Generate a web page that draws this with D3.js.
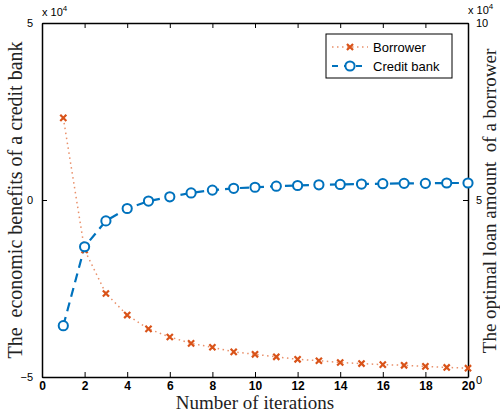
<!DOCTYPE html>
<html>
<head>
<meta charset="utf-8">
<script src="https://cdn.jsdelivr.net/npm/d3@7"></script>
<style>
  body { margin: 0; background: #fff; }
  svg { display: block; }
</style>
</head>
<body>
<div id="chart"></div>
<script>
// values
const iterations = d3.range(1, 21);
const creditBank = [-3.55, -1.32, -0.59, -0.24, -0.03, 0.09, 0.20, 0.28, 0.33, 0.36,
  0.39, 0.41, 0.43, 0.44, 0.45, 0.46, 0.47, 0.47, 0.48, 0.48];           // x 10^4, left axis
const borrower = [7.32, 3.59, 2.36, 1.75, 1.36, 1.13, 0.95, 0.84, 0.71, 0.64,
  0.57, 0.50, 0.46, 0.41, 0.38, 0.35, 0.33, 0.30, 0.27, 0.25];           // x 10^4, right axis
const xTicks = d3.range(0, 21, 2);
const leftTicks = [-5, 0, 5];
const rightTicks = [0, 5, 10];

const width = 500, height = 416;
const m = {left: 42, right: 32, top: 23, bottom: 39};
const orange = "#D95319", blue = "#0072BD";

const svg = d3.select("#chart").append("svg")
  .attr("width", width)
  .attr("height", height);

const x = d3.scaleLinear().domain([0, 20]).range([m.left, width - m.right]);
const yL = d3.scaleLinear().domain([-5, 5]).range([height - m.bottom, m.top]);
const yR = d3.scaleLinear().domain([0, 10]).range([height - m.bottom, m.top]);

// axes, MATLAB style: ticks point inward, box on
const tickFont = g => g.selectAll("text")
  .attr("font-family", "Liberation Sans, Arial, sans-serif")
  .attr("fill", "#000");

svg.append("g")
  .attr("transform", `translate(0, ${yL.range()[0]})`)
  .call(d3.axisBottom(x).tickValues(xTicks).tickSize(-5).tickPadding(4).tickSizeOuter(0))
  .call(tickFont)
  .call(g => g.selectAll("text").attr("font-size", 12).attr("font-weight", "bold"));

svg.append("g")
  .attr("transform", `translate(0, ${m.top})`)
  .call(d3.axisTop(x).tickValues(xTicks).tickSize(-5).tickFormat("").tickSizeOuter(0));

svg.append("g")
  .attr("transform", `translate(${m.left}, 0)`)
  .call(d3.axisLeft(yL).tickValues(leftTicks).tickSize(-5).tickPadding(9).tickSizeOuter(0))
  .call(tickFont)
  .call(g => g.selectAll("text").attr("font-size", 11));

svg.append("g")
  .attr("transform", `translate(${width - m.right}, 0)`)
  .call(d3.axisRight(yR).tickValues(rightTicks).tickSize(-5).tickPadding(8).tickSizeOuter(0))
  .call(tickFont)
  .call(g => g.selectAll("text").attr("font-size", 11))
  .call(g => g.selectAll("text").filter(d => d === 0).attr("dy", "0.6em"));

svg.selectAll(".domain").attr("stroke", "#000").attr("stroke-width", 1.5);
svg.selectAll(".tick line").attr("stroke", "#000");

// exponent labels
const expo = (xx, yy) => {
  const t = svg.append("text")
    .attr("x", xx).attr("y", yy)
    .attr("font-family", "Liberation Sans, Arial, sans-serif")
    .attr("font-size", 11);
  t.append("tspan").text("x 10");
  t.append("tspan").attr("font-size", 8).attr("dy", -5).text("4");
};
expo(m.left, 16);
expo(width - m.right, 14);

// lines
const bankLine = d3.line().x((d, i) => x(iterations[i])).y(d => yL(d));
const borrowerLine = d3.line().x((d, i) => x(iterations[i])).y(d => yR(d));

svg.append("path")
  .datum(borrower)
  .attr("d", borrowerLine)
  .attr("fill", "none")
  .attr("stroke", "#E9906A")
  .attr("stroke-width", 1.5)
  .attr("stroke-dasharray", "1.5,3.5");

svg.append("path")
  .datum(creditBank)
  .attr("d", bankLine)
  .attr("fill", "none")
  .attr("stroke", blue)
  .attr("stroke-width", 2.2)
  .attr("stroke-dasharray", "9,6");

// markers
const cross = d3.symbol().type(d3.symbolX).size(26);
svg.append("g").selectAll("path")
  .data(borrower)
  .join("path")
    .attr("transform", (d, i) => `translate(${x(iterations[i])}, ${yR(d)})`)
    .attr("d", cross)
    .attr("fill", "none")
    .attr("stroke", orange)
    .attr("stroke-width", 2.2);

svg.append("g").selectAll("circle")
  .data(creditBank)
  .join("circle")
    .attr("cx", (d, i) => x(iterations[i]))
    .attr("cy", d => yL(d))
    .attr("r", 4.6)
    .attr("fill", "#fff")
    .attr("stroke", blue)
    .attr("stroke-width", 2);

// axis titles
const title = (sel) => sel
  .attr("text-anchor", "middle")
  .attr("font-family", "Liberation Serif, Times New Roman, serif")
  .attr("fill", "#222")
  .style("white-space", "pre");

svg.append("text")
  .call(title)
  .attr("x", (m.left + width - m.right) / 2)
  .attr("y", 409)
  .attr("font-size", 19)
  .text("Number of iterations");

svg.append("text")
  .call(title)
  .attr("transform", `translate(22, ${yL(0)}) rotate(-90)`)
  .attr("font-size", 20)
  .text("The  economic benefits of a credit bank");

svg.append("text")
  .call(title)
  .attr("transform", `translate(496, ${yL(0) + 1}) rotate(-90)`)
  .attr("font-size", 19)
  .text("The optimal loan amount  of a borrower");

// legend
const lg = svg.append("g").attr("transform", "translate(326, 34)");
lg.append("rect")
  .attr("width", 126).attr("height", 44)
  .attr("fill", "#fff").attr("stroke", "#000").attr("stroke-width", 1);

const items = [
  {name: "Borrower", y: 13, kind: "x"},
  {name: "Credit bank", y: 32, kind: "o"}
];
items.forEach(it => {
  const row = lg.append("g").attr("transform", `translate(0, ${it.y})`);
  if (it.kind === "x") {
    row.append("line").attr("x1", 6).attr("x2", 42)
      .attr("stroke", "#E9906A").attr("stroke-width", 1.5).attr("stroke-dasharray", "1.5,3.5");
    row.append("path").attr("transform", "translate(24,0)").attr("d", cross)
      .attr("fill", "none").attr("stroke", orange).attr("stroke-width", 2.2);
  } else {
    row.append("line").attr("x1", 6).attr("x2", 42)
      .attr("stroke", blue).attr("stroke-width", 2.2).attr("stroke-dasharray", "6,6");
    row.append("circle").attr("cx", 24).attr("r", 4.6)
      .attr("fill", "#fff").attr("stroke", blue).attr("stroke-width", 2);
  }
  row.append("text").attr("x", 47).attr("dy", "0.35em")
    .attr("font-family", "Liberation Sans, Arial, sans-serif")
    .attr("font-size", 13)
    .text(it.name);
});
</script>
</body>
</html>
